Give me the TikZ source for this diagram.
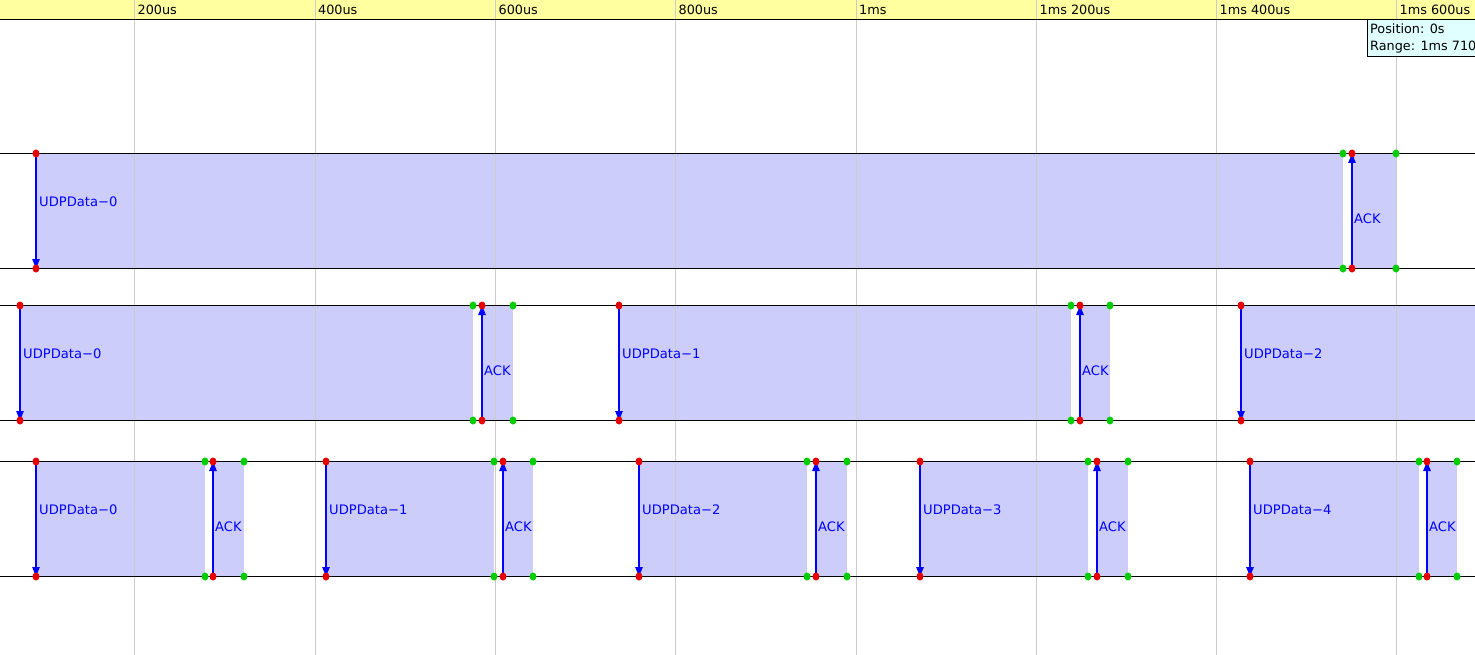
\documentclass[tikz,border=0pt]{standalone}
\usepackage{fontspec}
\setmainfont{DejaVu Sans}
\usetikzlibrary{arrows.meta,shapes.geometric}
\definecolor{hdr}{RGB}{255,255,160}
\definecolor{pktfill}{RGB}{204,205,250}
\definecolor{gridgrey}{RGB}{204,204,204}
\definecolor{poscol}{RGB}{224,255,255}
\definecolor{reddot}{RGB}{230,0,0}
\definecolor{greendot}{RGB}{0,205,0}
\definecolor{msgblue}{RGB}{0,0,255}
\tikzset{
  pktbox/.style={fill=pktfill, draw=none},
  rowline/.style={black, line width=1pt},
  gridline/.style={gridgrey, line width=1pt},
  msgarrow/.style={msgblue, line width=1.1pt, -{Triangle[length=9.5pt,width=7.5pt]}},
  rdot/.style={ellipse, fill=reddot, draw=none, minimum width=7pt, minimum height=8pt, inner sep=0pt},
  gdot/.style={ellipse, fill=greendot, draw=none, minimum width=7pt, minimum height=8pt, inner sep=0pt},
  msglabel/.style={anchor=west, inner sep=0pt, text=msgblue, font=\fontsize{13.1}{15}\selectfont},
  ticklabel/.style={anchor=west, inner sep=0pt, text=black, font=\fontsize{12.8}{15}\selectfont},
  poslabel/.style={anchor=west, inner sep=0pt, text=black, font=\fontsize{12.8}{15}\selectfont},
}
\begin{document}
\begin{tikzpicture}[x=1pt,y=-1pt]
\useasboundingbox (0,0) rectangle (1475,655);
\clip (0,0) rectangle (1475,655);
\fill[white] (0,0) rectangle (1475,655);
% header band
\fill[hdr] (0,0) rectangle (1475,19);
% packet fills
\foreach \n/\y/\xs/\xe/\lab in {a/153/36/1343/0, b/305/20/473/0, c/305/619/1071/1, d/305/1241/1490/2, e/461/36/205/0, f/461/326/494/1, g/461/639/807/2, h/461/920/1088/3, i/461/1250/1419/4}
  \fill[pktbox] (\xs,\y) rectangle (\xe,\y+115);
\foreach \n/\y/\xs/\xe in {A/153/1352/1396, B/305/482/513, C/305/1080/1110, E/461/213/244, F/461/503/533, G/461/816/847, H/461/1097/1128, I/461/1427/1457}
  \fill[pktbox] (\xs,\y) rectangle (\xe,\y+115);
% grid lines
\foreach \gx in {134.5,315,495.5,675.5,856,1036.5,1216.5,1396.5}
  \draw[gridline] (\gx,0) -- (\gx,655);
% header bottom line
\draw[rowline] (0,19.5) -- (1475,19.5);
% tick labels
\foreach \gx/\t in {134.5/200us,315/400us,495.5/600us,675.5/800us,856/1ms,1036.5/1ms 200us,1216.5/1ms 400us,1396.5/1ms 600us}
  \node[ticklabel] at (\gx+3,10) {\t};
% position box
\draw[black, line width=1pt, fill=poscol] (1367.5,20) rectangle (1490,56.5);
\node[poslabel] (pos) at (1370,29) {Position: 0s};
\node[poslabel] (rng) at (1370,47) {Range: 1ms 710};
% row lines
\foreach \y in {153.5,268.5,305.5,420.5,461.5,576.5}
  \draw[rowline] (0,\y) -- (1475,\y);
% data messages (downwards)
\foreach \n/\y/\xs/\xe/\lab in {a/153/36/1343/0, b/305/20/473/0, c/305/619/1071/1, d/305/1241/1490/2, e/461/36/205/0, f/461/326/494/1, g/461/639/807/2, h/461/920/1088/3, i/461/1250/1419/4}{
  \coordinate (\n t) at (\xs,\y+0.5);
  \coordinate (\n b) at (\xs,\y+115.5);
  \draw[msgarrow] (\n t) -- (\n b);
  \node[msglabel] (\n lab) at (\xs+3,\y+49) {UDPData−\lab};
  \node[rdot] (\n rt) at (\n t) {};
  \node[rdot] (\n rb) at (\n b) {};
  \node[gdot] (\n gt) at (\xe,\y+0.5) {};
  \node[gdot] (\n gb) at (\xe,\y+115.5) {};
}
% ACK messages (upwards)
\foreach \n/\y/\xs/\xe in {A/153/1352/1396, B/305/482/513, C/305/1080/1110, E/461/213/244, F/461/503/533, G/461/816/847, H/461/1097/1128, I/461/1427/1457}{
  \coordinate (\n t) at (\xs,\y+0.5);
  \coordinate (\n b) at (\xs,\y+115.5);
  \draw[msgarrow] (\n b) -- (\n t);
  \node[msglabel] (\n lab) at (\xs+2,\y+66) {ACK};
  \node[rdot] (\n rt) at (\n t) {};
  \node[rdot] (\n rb) at (\n b) {};
  \node[gdot] (\n gt) at (\xe,\y+0.5) {};
  \node[gdot] (\n gb) at (\xe,\y+115.5) {};
}
\end{tikzpicture}
\end{document}
